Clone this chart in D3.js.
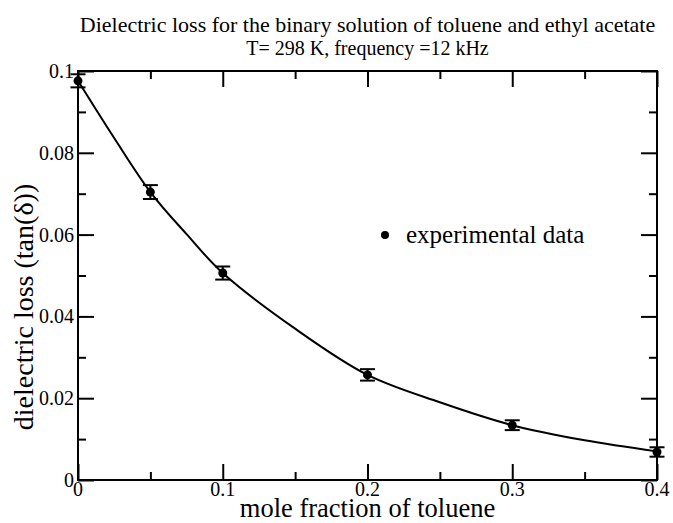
<!DOCTYPE html>
<html>
<head>
<meta charset="utf-8">
<script src="https://d3js.org/d3.v7.min.js"></script>
<style>
  body { margin: 0; background: #fff; }
  svg text { font-family: "Liberation Serif", "Times New Roman", "DejaVu Serif", serif; fill: #000; }
</style>
</head>
<body>
<svg id="chart" width="673" height="523"></svg>
<script>
// measured points
var moleFraction = [0, 0.05, 0.1, 0.2, 0.3, 0.4];
var tanDelta     = [0.0976, 0.0704, 0.0506, 0.0257, 0.0134, 0.00685];
var tanDeltaErr  = [0.0016, 0.0017, 0.0016, 0.0014, 0.0012, 0.00115];

// fitted curve
var fitX = [0, 0.025, 0.05, 0.075, 0.1, 0.15, 0.2, 0.25, 0.3, 0.35, 0.4];
var fitY = [0.0976, 0.0836, 0.0704, 0.0601, 0.0506, 0.0370, 0.0257, 0.0190, 0.0134, 0.0097, 0.0070];

var xTicks = [0, 0.1, 0.2, 0.3, 0.4];
var xMinor = [0.05, 0.15, 0.25, 0.35];
var yTicks = [0, 0.02, 0.04, 0.06, 0.08, 0.1];
var yMinor = [0.01, 0.03, 0.05, 0.07, 0.09];

var plotL = 78, plotR = 657, plotT = 71, plotB = 480;
var serif = "Liberation Serif, Times New Roman, serif";

var x = d3.scaleLinear().domain([0, 0.4]).range([plotL, plotR]);
var y = d3.scaleLinear().domain([0, 0.1]).range([plotB, plotT]);

var svg = d3.select("#chart");

// titles
svg.append("text").attr("x", (plotL + plotR) / 2).attr("y", 32)
  .attr("text-anchor", "middle").attr("font-family", serif).style("font-size", "22px")
  .text("Dielectric loss for the binary solution of toluene and ethyl acetate");
svg.append("text").attr("x", (plotL + plotR) / 2).attr("y", 55)
  .attr("text-anchor", "middle").attr("font-family", serif).style("font-size", "20px")
  .text("T= 298 K, frequency =12 kHz");

// ticks pointing inward on all four sides
var fmt = function(d) { return d === 0 ? "0" : d3.format("~g")(d); };
function ticks(axis, vals, size, tr) {
  svg.append("g").attr("transform", tr)
    .call(axis.tickValues(vals).tickSize(size).tickFormat("").tickSizeOuter(0));
}
ticks(d3.axisTop(x), xTicks, 16, "translate(0," + plotB + ")");
ticks(d3.axisTop(x), xMinor, 8, "translate(0," + plotB + ")");
ticks(d3.axisBottom(x), xTicks, 16, "translate(0," + plotT + ")");
ticks(d3.axisBottom(x), xMinor, 8, "translate(0," + plotT + ")");
ticks(d3.axisRight(y), yTicks, 16, "translate(" + plotL + ",0)");
ticks(d3.axisRight(y), yMinor, 8, "translate(" + plotL + ",0)");
ticks(d3.axisLeft(y), yTicks, 16, "translate(" + plotR + ",0)");
ticks(d3.axisLeft(y), yMinor, 8, "translate(" + plotR + ",0)");

svg.selectAll(".domain").remove();
svg.selectAll(".tick line").attr("stroke", "#000").attr("stroke-width", 2);

svg.append("rect").attr("x", plotL).attr("y", plotT)
  .attr("width", plotR - plotL).attr("height", plotB - plotT)
  .attr("fill", "none").attr("stroke", "#000").attr("stroke-width", 2);

// tick labels
svg.selectAll(".xlab").data(xTicks).enter().append("text")
  .attr("x", d => x(d)).attr("y", plotB + 16)
  .attr("text-anchor", "middle").attr("font-family", serif).style("font-size", "20px")
  .text(fmt);
svg.selectAll(".ylab").data(yTicks).enter().append("text")
  .attr("x", plotL - 4).attr("y", d => y(d) + 7)
  .attr("text-anchor", "end").attr("font-family", serif).style("font-size", "20px")
  .text(fmt);

// axis titles
svg.append("text").attr("x", (plotL + plotR) / 2).attr("y", 517)
  .attr("text-anchor", "middle").attr("font-family", serif).style("font-size", "26.5px")
  .text("mole fraction of toluene");
svg.append("text")
  .attr("transform", "translate(33,307) rotate(-90)")
  .attr("text-anchor", "middle").attr("font-family", serif).style("font-size", "28px")
  .text("dielectric loss (tan(\u03B4))");

// fitted curve
var fit = fitX.map((d, i) => [d, fitY[i]]);
svg.append("path").datum(fit)
  .attr("fill", "none").attr("stroke", "#000").attr("stroke-width", 2)
  .attr("d", d3.line().x(d => x(d[0])).y(d => y(d[1])).curve(d3.curveCatmullRom));

// error bars and points
var pts = moleFraction.map((d, i) => ({ x: d, y: tanDelta[i], e: tanDeltaErr[i] }));
var eb = svg.append("g").attr("stroke", "#000").attr("stroke-width", 2);
pts.forEach(function(p) {
  eb.append("line").attr("x1", x(p.x)).attr("x2", x(p.x))
    .attr("y1", y(p.y - p.e)).attr("y2", y(p.y + p.e));
  [p.y - p.e, p.y + p.e].forEach(function(v) {
    eb.append("line").attr("x1", x(p.x) - 7.5).attr("x2", x(p.x) + 7.5)
      .attr("y1", y(v)).attr("y2", y(v));
  });
});
svg.selectAll(".pt").data(pts).enter().append("circle")
  .attr("cx", d => x(d.x)).attr("cy", d => y(d.y)).attr("r", 4.5)
  .attr("fill", "#000");

// legend
svg.append("circle").attr("cx", 385).attr("cy", 235).attr("r", 4).attr("fill", "#000");
svg.append("text").attr("x", 406).attr("y", 243).attr("font-family", serif).style("font-size", "25px")
  .text("experimental data");
</script>
</body>
</html>
